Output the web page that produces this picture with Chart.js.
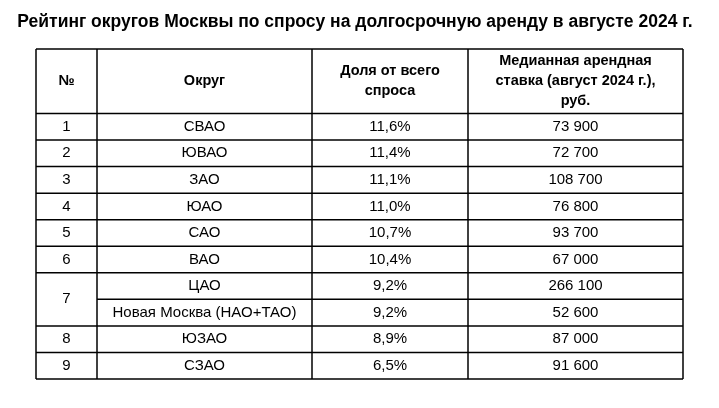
<!DOCTYPE html>
<html><head><meta charset="utf-8">
<script src="https://cdn.jsdelivr.net/npm/chart.js@4"></script>
<style>html,body{margin:0;padding:0;background:#fff}canvas{display:block}</style>
</head><body>
<canvas id="c" width="719" height="408"></canvas>
<script>
const titleText = "Рейтинг округов Москвы по спросу на долгосрочную аренду в августе 2024 г.";
const headers = [["№"], ["Округ"], ["Доля от всего", "спроса"], ["Медианная арендная", "ставка (август 2024 г.),", "руб."]];
const ranks = ["1","2","3","4","5","6","7","","8","9"];
const districts = ["СВАО","ЮВАО","ЗАО","ЮАО","САО","ВАО","ЦАО","Новая Москва (НАО+ТАО)","ЮЗАО","СЗАО"];
const shares = ["11,6%","11,4%","11,1%","11,0%","10,7%","10,4%","9,2%","9,2%","8,9%","6,5%"];
const rents = ["73 900","72 700","108 700","76 800","93 700","67 000","266 100","52 600","87 000","91 600"];
const colEdges = [36, 97, 312, 468, 683];
const headTop = 49, headBottom = 113.5, rowH = 26.55;

const tablePlugin = {
  id: 'table',
  afterDraw(chart) {
    const ctx = chart.ctx, xs = chart.scales.x, ys = chart.scales.y;
    const X = v => xs.getPixelForValue(v), Y = v => ys.getPixelForValue(v);
    ctx.save();
    ctx.fillStyle = '#000';
    ctx.textAlign = 'center'; ctx.textBaseline = 'middle';
    ctx.font = 'bold 17.5px "Liberation Sans", Arial, sans-serif';
    ctx.fillText(titleText, X(355), Y(22));
    const n = districts.length;
    const bottom = headBottom + n * rowH;
    ctx.strokeStyle = '#000'; ctx.lineWidth = 1.5;
    // vertical lines
    colEdges.forEach(cx => { ctx.beginPath(); ctx.moveTo(X(cx), Y(headTop)); ctx.lineTo(X(cx), Y(bottom)); ctx.stroke(); });
    // horizontal lines
    ctx.beginPath(); ctx.moveTo(X(colEdges[0]), Y(headTop)); ctx.lineTo(X(colEdges[4]), Y(headTop)); ctx.stroke();
    for (let i = 0; i <= n; i++) {
      const yy = headBottom + i * rowH;
      // rank 7 merged: skip first column between rows 6 and 7
      const startX = (i === 7) ? colEdges[1] : colEdges[0];
      ctx.beginPath(); ctx.moveTo(X(startX), Y(yy)); ctx.lineTo(X(colEdges[4]), Y(yy)); ctx.stroke();
    }
    // headers
    ctx.font = 'bold 14.5px "Liberation Sans", Arial, sans-serif';
    headers.forEach((lines, c) => {
      const cx = (colEdges[c] + colEdges[c+1]) / 2;
      const mid = (headTop + headBottom) / 2;
      const lh = 20;
      lines.forEach((t, k) => ctx.fillText(t, X(cx), Y(mid + (k - (lines.length - 1) / 2) * lh)));
    });
    // body
    ctx.font = '15px "Liberation Sans", Arial, sans-serif';
    const cols = [ranks, districts, shares, rents];
    for (let i = 0; i < n; i++) {
      let cy = headBottom + (i + 0.5) * rowH;
      cols.forEach((arr, c) => {
        const t = arr[i]; if (!t) return;
        let yy = cy;
        if (c === 0 && i === 6) yy = headBottom + 7 * rowH;
        ctx.fillText(t, X((colEdges[c] + colEdges[c+1]) / 2), Y(yy));
      });
    }
    ctx.restore();
  }
};

new Chart(document.getElementById('c'), {
  type: 'scatter',
  data: { datasets: [{ data: [] }] },
  options: {
    responsive: false, animation: false,
    layout: { padding: 0 },
    plugins: { legend: { display: false }, tooltip: { enabled: false } },
    scales: {
      x: { type: 'linear', min: 0, max: 719, display: false },
      y: { type: 'linear', min: 0, max: 408, reverse: true, display: false }
    }
  },
  plugins: [tablePlugin]
});
</script>
</body></html>
